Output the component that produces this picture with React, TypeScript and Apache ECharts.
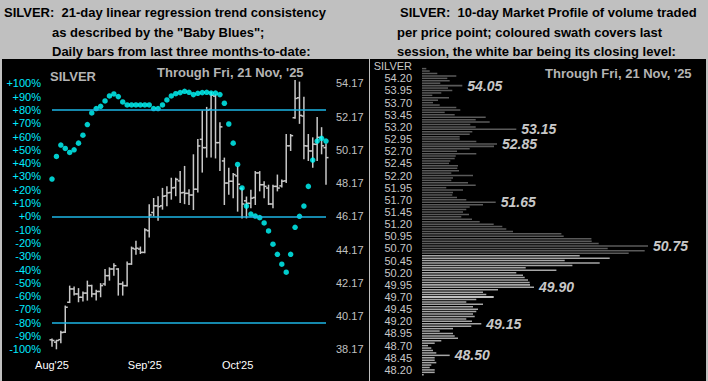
import React, { useEffect, useRef } from 'react';
import * as echarts from 'echarts';

// ---------- Left panel data ----------
// Daily OHLC bars (open, high, low, close), oldest first
const ohlcBars: [number, number, number, number][] = [
  [38.74, 38.82, 38.33, 38.70],
  [38.60, 38.74, 38.17, 38.70],
  [38.75, 39.28, 38.53, 39.18],
  [39.20, 40.80, 39.15, 40.70],
  [41.00, 42.00, 40.95, 41.80],
  [41.80, 41.95, 41.40, 41.50],
  [41.50, 41.85, 41.00, 41.30],
  [41.30, 41.65, 41.05, 41.55],
  [41.55, 42.30, 41.10, 42.00],
  [42.00, 42.05, 41.30, 41.50],
  [41.50, 41.75, 41.10, 41.65],
  [41.65, 42.15, 41.30, 42.00],
  [42.10, 43.00, 42.00, 42.60],
  [42.60, 43.10, 42.30, 43.00],
  [43.00, 43.35, 42.60, 43.20],
  [43.00, 43.05, 41.40, 42.10],
  [42.10, 42.25, 41.40, 42.00],
  [42.00, 43.45, 41.95, 43.30],
  [43.30, 44.35, 43.25, 44.25],
  [44.20, 44.70, 43.85, 44.25],
  [44.20, 44.35, 43.90, 44.00],
  [44.00, 45.45, 43.95, 45.35],
  [45.30, 46.90, 44.90, 46.25],
  [46.40, 47.27, 46.16, 46.80],
  [46.80, 47.38, 45.90, 46.75],
  [46.80, 47.88, 46.57, 47.38],
  [47.40, 47.98, 46.77, 47.58],
  [47.60, 48.49, 47.17, 47.88],
  [47.90, 48.49, 47.38, 48.39],
  [48.30, 48.89, 46.97, 47.58],
  [47.60, 49.20, 46.90, 47.55],
  [47.55, 47.80, 46.85, 47.45],
  [47.45, 49.90, 46.55, 47.80],
  [47.80, 50.82, 47.60, 50.40],
  [50.80, 52.54, 48.80, 50.30],
  [50.30, 52.75, 49.70, 52.55],
  [52.60, 53.66, 49.70, 53.45],
  [53.40, 53.50, 49.65, 50.60],
  [50.60, 51.83, 48.90, 51.55],
  [49.50, 49.70, 46.85, 48.17],
  [48.17, 49.09, 47.46, 48.28],
  [48.28, 48.78, 47.26, 48.68],
  [48.60, 49.19, 46.45, 48.10],
  [47.85, 47.90, 46.04, 46.91],
  [47.10, 47.36, 46.04, 46.95],
  [46.95, 47.77, 46.65, 47.26],
  [47.30, 48.89, 46.85, 48.78],
  [48.78, 48.89, 47.67, 48.07],
  [48.07, 48.28, 47.26, 47.97],
  [47.87, 48.07, 46.85, 46.91],
  [46.91, 48.07, 46.65, 47.97],
  [47.97, 48.68, 47.67, 47.87],
  [48.00, 48.38, 47.90, 48.28],
  [48.30, 51.12, 48.17, 50.41],
  [50.41, 51.12, 50.10, 51.02],
  [52.10, 54.37, 52.04, 53.26],
  [53.30, 54.27, 51.73, 52.24],
  [52.20, 53.36, 49.60, 50.41],
  [50.40, 51.12, 49.50, 50.10],
  [50.10, 50.92, 49.09, 50.51],
  [50.50, 52.14, 49.50, 50.92],
  [50.90, 51.53, 49.90, 50.41],
  [50.30, 50.55, 48.07, 49.70],
];

// "Baby Blues": 21-day linear regression trend consistency, %
const babyBlues: number[] = [
  28, 45, 53.6, 51, 48, 50, 55, 61, 69, 77.7,
  81, 82.7, 86.7, 90.5, 92, 90, 86, 83.7, 83.7, 83.7,
  83.7, 83.7, 83.7, 81, 81, 83.7, 87.5, 90.5, 92.2, 93,
  94, 93.2, 91.5, 92.5, 93, 93.2, 92.7, 92.7, 91.5, 85,
  69.4, 55, 39, 21.3, 7.7, 1.7, 0.2, -1, -5, -11,
  -21, -28.6, -36, -42, -28.6, -8.3, 0, 7.7, 22.5, 42.3,
  56.6, 58.6, 56.6,
];

const monthTicks: [number, string][] = [[0, "Aug'25"], [21, "Sep'25"], [42, "Oct'25"]];
const priceTickLabels = ['38.17', '40.17', '42.17', '44.17', '46.17', '48.17', '50.17', '52.17', '54.17'];
const trendLevels = [80, 0, -80];

// ---------- Right panel data ----------
// 10-day market profile: [price level, volume], top to bottom
const profile: [string, number][] = [
  ['54.40', 4.3], ['54.35', 7.7], ['54.30', 15.3], ['54.25', 34.3], ['54.20', 25.3],
  ['54.15', 27.7], ['54.10', 18.3], ['54.05', 40.3], ['54.00', 26], ['53.95', 30.3],
  ['53.90', 19.3], ['53.85', 10.3], ['53.80', 27], ['53.75', 16], ['53.70', 11],
  ['53.65', 17.7], ['53.60', 34.3], ['53.55', 38.3], ['53.50', 22.7], ['53.45', 32.7],
  ['53.40', 63.7], ['53.35', 53.7], ['53.30', 67.7], ['53.25', 48.3], ['53.20', 53.7],
  ['53.15', 94.3], ['53.10', 50.3], ['53.05', 47.7], ['53.00', 37.7], ['52.95', 37.7],
  ['52.90', 54.3], ['52.85', 75], ['52.80', 72], ['52.75', 47.7], ['52.70', 35],
  ['52.65', 54.3], ['52.60', 33.7], ['52.55', 32.7], ['52.50', 28.3], ['52.45', 27],
  ['52.40', 36], ['52.35', 35.3], ['52.30', 37], ['52.25', 29.3], ['52.20', 51],
  ['52.15', 31], ['52.10', 29.3], ['52.05', 46], ['52.00', 53.7], ['51.95', 24.3],
  ['51.90', 41], ['51.85', 31], ['51.80', 30.3], ['51.75', 35], ['51.70', 44.3],
  ['51.65', 73.7], ['51.60', 61], ['51.55', 47.7], ['51.50', 44.3], ['51.45', 41],
  ['51.40', 47], ['51.35', 39.3], ['51.30', 50], ['51.25', 57.7], ['51.20', 71.7],
  ['51.15', 80.3], ['51.10', 84.3], ['51.05', 91], ['51.00', 139.4], ['50.95', 141.7],
  ['50.90', 169.4], ['50.85', 169.7], ['50.80', 176.7], ['50.75', 226], ['50.70', 185.7],
  ['50.65', 222.7], ['50.60', 206.7], ['50.55', 157.7], ['50.50', 187.7], ['50.45', 142.7],
  ['50.40', 177.7], ['50.35', 150.4], ['50.30', 103.7], ['50.25', 134.4], ['50.20', 94.3],
  ['50.15', 101], ['50.10', 102.7], ['50.05', 106], ['50.00', 107.7], ['49.95', 108],
  ['49.90', 112], ['49.85', 76], ['49.80', 61], ['49.75', 64.3], ['49.70', 71.7],
  ['49.65', 54.3], ['49.60', 44.3], ['49.55', 61], ['49.50', 51], ['49.45', 56],
  ['49.40', 54.3], ['49.35', 51], ['49.30', 52.7], ['49.25', 44.3], ['49.20', 50],
  ['49.15', 59.3], ['49.10', 49.3], ['49.05', 31], ['49.00', 17.7], ['48.95', 31],
  ['48.90', 32.7], ['48.85', 36], ['48.80', 19.3], ['48.75', 12.7], ['48.70', 6],
  ['48.65', 9.3], ['48.60', 11], ['48.55', 14.3], ['48.50', 27.7], ['48.45', 12.7],
  ['48.40', 12.7], ['48.35', 14.3], ['48.30', 9.3], ['48.25', 7.7], ['48.20', 12.7],
  ['48.15', 12.7], ['48.10', 1.7],
];
const profileTicks = [
  '54.20', '53.95', '53.70', '53.45', '53.20', '52.95', '52.70', '52.45', '52.20',
  '51.95', '51.70', '51.45', '51.20', '50.95', '50.70', '50.45', '50.20', '49.95',
  '49.70', '49.45', '49.20', '48.95', '48.70', '48.45', '48.20',
];
const peakLabels = ['54.05', '53.15', '52.85', '51.65', '50.75', '49.90', '49.15', '48.50'];
const closeLevel = '49.70';
const sessionRange: [number, number] = [48.10, 50.55];

const FONT = "'Liberation Sans', Arial, Helvetica, sans-serif";

export default function App() {
  const ref = useRef<HTMLDivElement>(null);
  useEffect(() => {
    if (!ref.current) return;
    const chart = echarts.init(ref.current, undefined, { renderer: 'svg' });
    const header = (text: string, x: number, y: number) => ({
      type: 'text', x, y,
      style: { text, fill: '#000', font: `bold 13px ${FONT}`, textVerticalAlign: 'middle' },
    });
    const label = (text: string, x: number, y: number, align: string, size = 13, weight = 'bold', color = '#b4b4b4') => ({
      type: 'text', x, y,
      style: { text, fill: color, font: `${weight} ${size}px ${FONT}`, textAlign: align, textVerticalAlign: 'middle' },
    });
    const bh = 2.5;
    chart.setOption({
      animation: false,
      textStyle: { fontFamily: FONT },
      grid: [
        { left: 52, top: 83.3, width: 274, height: 266 },
        { left: 422, top: 67.4, width: 280, height: 308.6 },
      ],
      xAxis: [
        {
          type: 'category', gridIndex: 0, boundaryGap: false,
          data: ohlcBars.map((_, i) => String(i)),
          axisLine: { show: false }, axisTick: { show: false }, splitLine: { show: false },
          axisLabel: {
            color: '#ffffff', fontSize: 11, margin: 10, fontFamily: FONT,
            interval: (idx: number) => monthTicks.some((m) => m[0] === idx),
            formatter: (_v: string, idx: number) => {
              const m = monthTicks.find((t) => t[0] === idx);
              return m ? m[1] : '';
            },
          },
        },
        { type: 'value', gridIndex: 1, min: 0, max: 280, show: false },
      ],
      yAxis: [
        {
          type: 'value', gridIndex: 0, min: -100, max: 100, interval: 10, position: 'left',
          axisLine: { show: false }, axisTick: { show: false }, splitLine: { show: false },
          axisLabel: {
            color: '#00eaff', fontSize: 11, margin: 11, fontFamily: FONT,
            formatter: (v: number) => (v >= 0 ? '+' : '') + v + '%',
          },
        },
        { type: 'value', gridIndex: 0, min: 38.17, max: 54.17, show: false },
        {
          type: 'value', gridIndex: 0, min: 0, max: priceTickLabels.length - 1, interval: 1, position: 'right',
          axisLine: { show: false }, axisTick: { show: false }, splitLine: { show: false },
          axisLabel: {
            color: '#c0c0c0', fontSize: 11, margin: 10, fontFamily: FONT,
            formatter: (v: number) => priceTickLabels[v],
          },
        },
        {
          type: 'category', gridIndex: 1, inverse: true,
          data: profile.map((p) => p[0]),
          axisLine: { show: false }, axisTick: { show: false }, splitLine: { show: false },
          axisLabel: {
            color: '#c8c8c8', fontSize: 11, margin: 10, fontFamily: FONT,
            interval: (_i: number, v: string) => profileTicks.includes(v),
          },
        },
      ],
      series: [
        {
          type: 'custom', xAxisIndex: 0, yAxisIndex: 1,
          data: ohlcBars.map((b, i) => [i, b[0], b[1], b[2], b[3]]),
          encode: { x: 0, y: [1, 2, 3, 4] },
          renderItem: (_p: any, api: any) => {
            const i = api.value(0);
            const pH = api.coord([i, api.value(2)]);
            const pL = api.coord([i, api.value(3)]);
            const pO = api.coord([i, api.value(1)]);
            const pC = api.coord([i, api.value(4)]);
            const x = pH[0];
            const style = { stroke: '#c8c8c8', lineWidth: 1.5 };
            return {
              type: 'group',
              children: [
                { type: 'line', shape: { x1: x, y1: pH[1], x2: x, y2: pL[1] }, style },
                { type: 'line', shape: { x1: x - bh, y1: pO[1], x2: x, y2: pO[1] }, style },
                { type: 'line', shape: { x1: x, y1: pC[1], x2: x + bh, y2: pC[1] }, style },
              ],
            };
          },
        },
        {
          type: 'scatter', xAxisIndex: 0, yAxisIndex: 0,
          data: babyBlues.map((v, i) => [i, v]),
          symbol: 'circle', symbolSize: 5.5,
          itemStyle: { color: '#00ffff' },
          markLine: {
            silent: true, symbol: ['none', 'none'],
            label: { show: false },
            lineStyle: { color: '#1cb6e6', width: 1.5, type: 'solid' },
            data: trendLevels.map((v) => ({ yAxis: v })),
          },
        },
        {
          type: 'bar', xAxisIndex: 1, yAxisIndex: 3, barWidth: '62%',
          data: profile.map(([p, v]) => ({
            value: v,
            itemStyle: {
              color: p === closeLevel ? '#ffffff'
                : (+p >= sessionRange[0] && +p <= sessionRange[1] ? '#a6a6a6' : '#5a5a5a'),
            },
            label: peakLabels.includes(p)
              ? {
                  show: true, position: 'right', distance: 5, formatter: p,
                  color: '#c8c8c8', fontSize: 14, fontWeight: 'bold', fontStyle: 'italic', fontFamily: FONT,
                }
              : { show: false },
          })),
        },
      ],
      graphic: [
        header('SILVER:  21-day linear regression trend consistency', 4, 12),
        header('as described by the "Baby Blues";', 52, 32),
        header('Daily bars from last three months-to-date:', 52, 51.5),
        header('SILVER:  10-day Market Profile of volume traded', 400, 12),
        header('per price point; coloured swath covers last', 397, 32),
        header('session, the white bar being its closing level:', 397, 51.5),
        label('SILVER', 50, 76, 'left'),
        label("Through Fri, 21 Nov, '25", 157, 72, 'left'),
        label("Through Fri, 21 Nov, '25", 545, 73, 'left'),
        label('SILVER', 412, 66, 'right', 11, 'normal', '#c8c8c8'),
      ],
    });
    return () => chart.dispose();
  }, []);

  return (
    <div style={{ position: 'fixed', left: 0, top: 0, width: 708, height: 381, background: '#c0c0c0', overflow: 'hidden' }}>
      <div style={{ position: 'absolute', left: 2, top: 59, width: 367, height: 322, background: '#000' }} />
      <div style={{ position: 'absolute', left: 370, top: 59, width: 336, height: 322, background: '#000' }} />
      <div ref={ref} style={{ position: 'absolute', left: 0, top: 0, width: 708, height: 381 }} />
    </div>
  );
}
